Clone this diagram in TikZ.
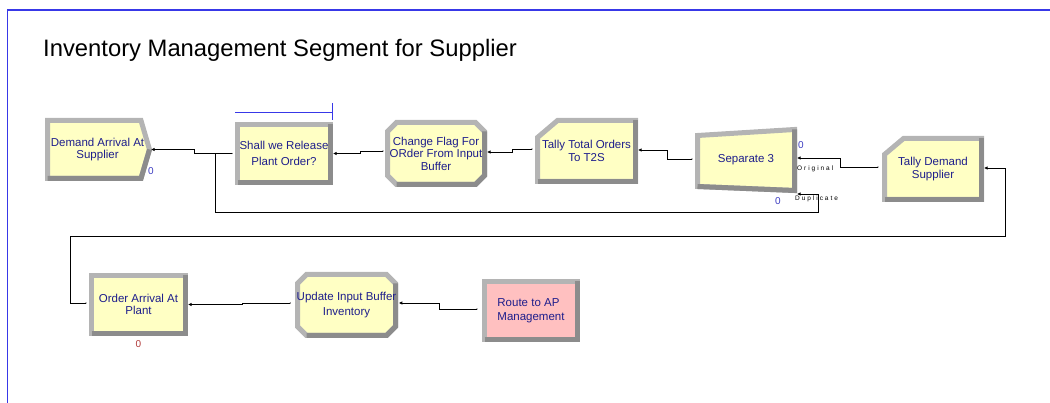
\documentclass[tikz,border=0pt]{standalone}
\usepackage{fontspec}
\setmainfont{Liberation Sans}
\newfontfamily\spacedfont[LetterSpace=30]{Liberation Sans}
\usetikzlibrary{arrows.meta}

\definecolor{modyellow}{HTML}{FFFFC4}
\definecolor{modpink}{HTML}{FFC0C0}
\definecolor{bevel}{HTML}{B4B4B4}
\definecolor{bevdark}{HTML}{8C8C8C}
\definecolor{modtext}{HTML}{1E1E8C}
\definecolor{frameblue}{HTML}{3838E8}
\definecolor{cntblue}{HTML}{3C3CC0}
\definecolor{cntred}{HTML}{B03838}

\begin{document}
\begin{tikzpicture}[x=1pt, y=-1pt,
    module/.style={draw=bevel, line width=5pt, fill=modyellow, inner sep=0pt,
      align=center, text=modtext, font=\fontsize{11.5}{12.5}\selectfont},
    lowedge/.style={draw=bevdark, line width=5pt},
    link/.style={line width=0.8pt, {Latex[length=3.5pt,width=3.5pt]}-},
    cnt/.style={inner sep=0pt, text=cntblue, font=\fontsize{10}{10}\selectfont},
    portlbl/.style={inner sep=0pt, anchor=west, font=\spacedfont\fontsize{6.5}{6.5}\selectfont}]
    \useasboundingbox (0,0) rectangle (1050,403);

    \draw[frameblue, line width=1.5pt] (7.5,403) -- (7.5,10) -- (1050,10);
    \node[anchor=base west, inner sep=0pt, font=\fontsize{23.8}{26}\selectfont] (title) at (43,57)
      {Inventory Management Segment for Supplier};

    % outlines of the modules that are not plain boxes
    \draw[module] (47.5,120.5) -- (141,120.5) -- (149.5,149.5) -- (141,178.5) -- (47.5,178.5) -- cycle;
    \draw[lowedge] (47.5,178.5) -- (141,178.5) -- (149.5,149.5);
    \draw[module] (396.5,122.5) -- (475.5,122.5) -- (484.5,131.5) -- (484.5,175.5) -- (475.5,184.5)
      -- (396.5,184.5) -- (387.5,175.5) -- (387.5,131.5) -- cycle;
    \draw[lowedge] (396.5,184.5) -- (475.5,184.5) -- (484.5,175.5) -- (484.5,131.5);
    \draw[module] (557.5,120.5) -- (635.5,120.5) -- (635.5,181.5) -- (537.5,181.5) -- (537.5,137.5) -- cycle;
    \draw[lowedge] (537.5,181.5) -- (635.5,181.5) -- (635.5,120.5);
    \draw[module] (697.5,135.5) -- (794.5,129.5) -- (794.5,190.5) -- (697.5,186.5) -- cycle;
    \draw[lowedge] (697.5,186.5) -- (794.5,190.5) -- (794.5,129.5);
    \draw[module] (903.5,138.5) -- (981.5,138.5) -- (981.5,199.5) -- (884.5,199.5) -- (884.5,154.5) -- cycle;
    \draw[lowedge] (884.5,199.5) -- (981.5,199.5) -- (981.5,138.5);
    \draw[module] (306.5,274.5) -- (386.5,274.5) -- (395.5,283.5) -- (395.5,326.5) -- (386.5,335.5)
      -- (306.5,335.5) -- (297.5,326.5) -- (297.5,283.5) -- cycle;
    \draw[lowedge] (306.5,335.5) -- (386.5,335.5) -- (395.5,326.5) -- (395.5,283.5);

    \node[module, draw=none, fill=none, minimum width=102, minimum height=58] (demand) at (97.5,149.5)
      {Demand Arrival At\\Supplier};
    \node[module, minimum width=93, minimum height=58] (release) at (284,153.5)
      {Shall we Release\\[4pt]Plant Order?};
    \node[module, draw=none, fill=none, minimum width=97, minimum height=62] (flag) at (436,153.5)
      {Change Flag For\\ORder From Input\\Buffer};
    \node[module, draw=none, fill=none, minimum width=98, minimum height=61] (tallyT2S) at (586.5,151)
      {Tally Total Orders\\To T2S};
    \node[module, draw=none, fill=none, minimum width=97, minimum height=61] (sep3) at (746,160) {Separate 3};
    \node[module, draw=none, fill=none, minimum width=97, minimum height=61] (tallydem) at (933,169)
      {Tally Demand\\Supplier};

    \node[module, minimum width=94, minimum height=58] (orderarr) at (138.5,304.5) {Order Arrival At\\Plant};
    \node[module, draw=none, fill=none, minimum width=98, minimum height=61] (updbuf) at (346.5,305)
      {Update Input Buffer\\[2pt]Inventory};
    \node[module, fill=modpink, align=left, minimum width=93, minimum height=58] (routeAP) at (531,310.5)
      {Route to AP\\[2pt]Management};

    \foreach \m in {release, orderarr, routeAP}
      \draw[lowedge] ([shift={(2.5,-2.5)}]\m.south west) -- ([shift={(-2.5,-2.5)}]\m.south east)
        -- ([shift={(-2.5,2.5)}]\m.north east);

    \draw[frameblue, line width=0.8pt] ([yshift=10pt]release.north west) -- ([xshift=-1pt,yshift=10pt]release.north east);
    \draw[frameblue, line width=0.8pt] ([xshift=-1pt,yshift=19pt]release.north east) -- ([xshift=-1pt,yshift=2pt]release.north east);

    \node[cnt] (demandcnt) at ([yshift=-22pt]demand.east) {0};
    \node[cnt] (sep3cnt) at ([xshift=4pt,yshift=15pt]sep3.east) {0};
    \node[cnt] (dupcnt) at ([xshift=-19pt,yshift=-41pt]sep3.east) {0};
    \node[cnt, text=cntred] (ordercnt) at ([yshift=-8pt]orderarr.south) {0};
    \node[portlbl] (origlbl) at ([yshift=-9pt]sep3.east) {Original};
    \node[portlbl] (duplbl) at ([xshift=-2pt,yshift=-39pt]sep3.east) {Duplicate};

    \draw[link] (demand.east) -- ++(43,0) |- ([xshift=-3pt]release.west) coordinate (releasein);
    \draw[link] (release.east) -- ++(27,0) |- ([xshift=-2pt,yshift=2.5pt]flag.west) coordinate (flagin);
    \draw[link] ([yshift=1.5pt]flag.east) -- ++(25,0) |- ([xshift=-3pt,yshift=2pt]tallyT2S.west) coordinate (tallyT2Sin);
    \draw[link] ([yshift=1pt]tallyT2S.east) -- ++(29,0) |- ([xshift=-3pt,yshift=1pt]sep3.west) coordinate (sep3in);
    \draw[link] ([yshift=2pt]sep3.east) -- ++(43,0) |- ([xshift=-4pt,yshift=2pt]tallydem.west) coordinate (tallydemin);
    \draw[link] ([yshift=-34pt]sep3.east) -- ++(21,0) -- ++(0,18) -| ([xshift=-20pt]release.west) -- (releasein);
    \draw[link] ([yshift=1pt]tallydem.east) -- ++(21,0) -- ++(0,68) -| ([xshift=-19pt,yshift=1.5pt]orderarr.west)
      -- ([xshift=-3pt,yshift=1.5pt]orderarr.west) coordinate (orderarrin);
    \draw[link] (orderarr.east) -- ++(54,0) |- ([xshift=-4pt,yshift=2pt]updbuf.west) coordinate (updbufin);
    \draw[link] ([yshift=2pt]updbuf.east) -- ++(41,0) |- ([xshift=-5pt,yshift=1.5pt]routeAP.west) coordinate (routeAPin);
    \foreach \p in {releasein, flagin, tallyT2Sin, sep3in, tallydemin, orderarrin, updbufin, routeAPin}
      \fill (\p) circle (0.7pt);
\end{tikzpicture}
\end{document}
